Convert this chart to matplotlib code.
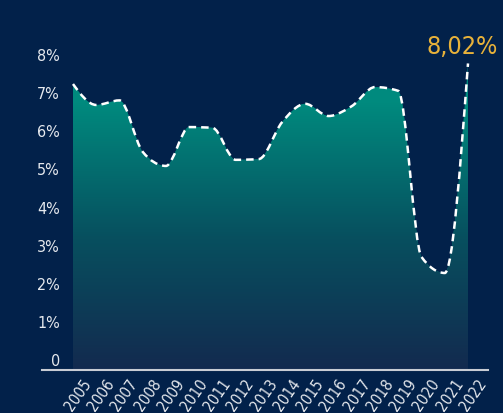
import numpy as np
import matplotlib
matplotlib.use("Agg")
import matplotlib.pyplot as plt
from matplotlib.path import Path
from matplotlib.patches import PathPatch
from matplotlib.colors import LinearSegmentedColormap
from matplotlib.transforms import ScaledTranslation

years = [2005, 2006, 2007, 2008, 2009, 2010, 2011, 2012, 2013, 2014,
         2015, 2016, 2017, 2018, 2019, 2020, 2021, 2022]
values = [7.48, 6.93, 7.05, 5.70, 5.33, 6.35, 6.33, 5.49, 5.51, 6.48,
          6.96, 6.64, 6.90, 7.40, 7.30, 2.94, 2.52, 8.02]
ytick_vals = [0, 1, 2, 3, 4, 5, 6, 7, 8]
ytick_labels = ["0", "1%", "2%", "3%", "4%", "5%", "6%", "7%", "8%"]
annotation = "8,02%"

BG = "#02214a"
fig = plt.figure(figsize=(5.03, 4.14), dpi=100, facecolor=BG)
ax = fig.add_axes([42/503, 1-371/414, 446/503, 341/414])
ax.set_facecolor(BG)

ylow = -1/38.1
ax.set_xlim(2005 - 31/23.24, 2022 + 20/23.24)
ax.set_ylim(ylow, 340/38.1)

# Monotone cubic (d3 monotoneX style) Bezier path through data points
x = np.array(years, dtype=float)
y = np.array(values, dtype=float)
n = len(x)
h = np.diff(x)
s = np.diff(y) / h
t = np.zeros(n)
for i in range(1, n - 1):
    s0, s1 = s[i-1], s[i]
    p = (s0 * h[i] + s1 * h[i-1]) / (h[i-1] + h[i])
    t[i] = (np.sign(s0) + np.sign(s1)) * min(abs(s0), abs(s1), 0.5 * abs(p))
t[0] = (3 * s[0] - t[1]) / 2
t[-1] = (3 * s[-1] - t[-2]) / 2
verts = [(x[0], y[0])]
codes = [Path.MOVETO]
for i in range(n - 1):
    dx = x[i+1] - x[i]
    verts += [(x[i] + dx/3, y[i] + dx*t[i]/3),
              (x[i+1] - dx/3, y[i+1] - dx*t[i+1]/3),
              (x[i+1], y[i+1])]
    codes += [Path.CURVE4] * 3
line_path = Path(verts, codes)

fill_verts = [(x[0], ylow)] + verts + [(x[-1], ylow), (x[0], ylow)]
fill_codes = [Path.MOVETO, Path.LINETO] + codes[1:] + [Path.LINETO, Path.CLOSEPOLY]
fill_path = Path(fill_verts, fill_codes)

cmap = LinearSegmentedColormap.from_list("g", ["#132a4f", "#07505f", "#008a7e"])
grad = np.linspace(0, 1, 256).reshape(-1, 1)
im = ax.imshow(grad, extent=[x[0], x[-1], ylow, 7.0], origin="lower",
               aspect="auto", cmap=cmap, zorder=1)
patch = PathPatch(fill_path, facecolor="#008a7e", edgecolor="none", zorder=0.9)
ax.add_patch(patch)
im.set_clip_path(patch)

lp = PathPatch(line_path, facecolor="none", edgecolor="white", lw=1.8,
               linestyle=(0, (3, 2)), zorder=3)
ax.add_patch(lp)

ax.text(x[-1] - 0.27, y[-1] + 0.45, annotation, color="#e8b23a", fontsize=18,
        fontstretch="condensed", ha="center", va="center", clip_on=False)

for sp in ["top", "right", "left"]:
    ax.spines[sp].set_visible(False)
ax.spines["bottom"].set_color("#c8ccd4")
ax.spines["bottom"].set_linewidth(1.5)

ax.set_yticks(ytick_vals)
ax.set_yticklabels(ytick_labels)
ax.tick_params(axis="y", length=0, pad=-13, labelcolor="#e6e9ee", labelsize=11.5)
for lab in ax.get_yticklabels():
    lab.set_fontstretch("condensed")
    lab.set_transform(lab.get_transform() + ScaledTranslation(0, 10/100, fig.dpi_scale_trans))

ax.set_xticks(years)
ax.set_xticklabels([str(v) for v in years], rotation=55, ha="right", va="top",
                   rotation_mode="anchor", color="#e6e9ee", fontsize=11,
                   fontstretch="condensed")
ax.tick_params(axis="x", length=0, pad=4)
for lab in ax.get_xticklabels():
    lab.set_transform(lab.get_transform() + ScaledTranslation(9/100, 0, fig.dpi_scale_trans))

fig.savefig("out.png", dpi=100, facecolor=BG)
